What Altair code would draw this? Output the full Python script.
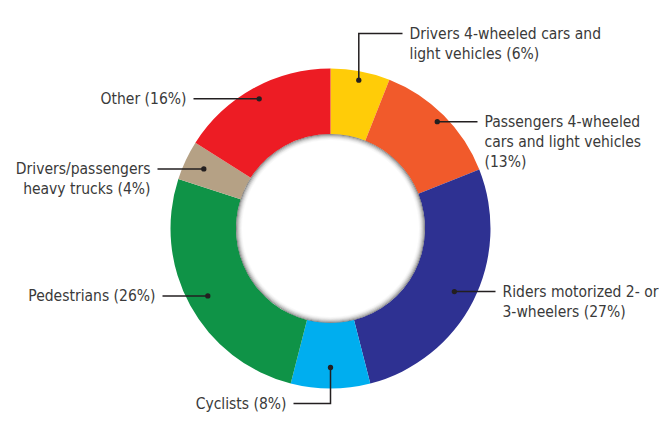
import altair as alt
import numpy as np
import pandas as pd

# ---- data ----
categories = [
    "Drivers 4-wheeled cars and light vehicles",
    "Passengers 4-wheeled cars and light vehicles",
    "Riders motorized 2- or 3-wheelers",
    "Cyclists",
    "Pedestrians",
    "Drivers/passengers heavy trucks",
    "Other",
]
values = [6, 13, 27, 8, 26, 4, 16]
labels = [
    "Drivers 4-wheeled cars and\nlight vehicles (6%)",
    "Passengers 4-wheeled\ncars and light vehicles\n(13%)",
    "Riders motorized 2- or\n3-wheelers (27%)",
    "Cyclists (8%)",
    "Pedestrians (26%)",
    "Drivers/passengers\nheavy trucks (4%)",
    "Other (16%)",
]
colors = ["#FFCC08", "#F15A2B", "#2E3192", "#00AEEF", "#0F9347", "#B5A185", "#ED1C24"]

# ---- layout (annotation placement, relative to donut centre, px) ----
W, H = 651, 405
CX, CY = 322.5, 220.5
R_OUT, R_IN = 160, 94.5
dot_radius = [151, 151, 139, 139, 140, 140, 148]
elbow_y = [-195, None, None, 175, None, None, None]
end_x = [72, 147, 165, -37, -168, -173, -137]
side = ["left", "left", "left", "right", "right", "right", "right"]
FONT = "DejaVu Sans Condensed, sans-serif"
FS = 15.5

df = pd.DataFrame({"cat": categories, "value": values, "idx": range(len(values))})

# mid angles of slices (clockwise from 12 o'clock)
tot = float(sum(values))
cum = np.cumsum(values) - np.array(values) / 2.0
ang = cum / tot * 2 * np.pi
dots = pd.DataFrame({
    "cat": categories,
    "x": np.array(dot_radius) * np.sin(ang),
    "y": -np.array(dot_radius) * np.cos(ang),
})

line_rows, text_rows = [], []
for i, c in enumerate(categories):
    dx, dy = dots.loc[i, "x"], dots.loc[i, "y"]
    pts = [(dx, dy)]
    if elbow_y[i] is not None:
        pts.append((dx, elbow_y[i]))
        ly = elbow_y[i]
    else:
        ly = dy
    pts.append((end_x[i], ly))
    for k, (px, py) in enumerate(pts):
        line_rows.append({"cat": c, "k": k, "x": px, "y": py})
    off = 7 if side[i] == "left" else -7
    text_rows.append({"cat": c, "x": end_x[i] + off, "y": ly, "label": labels[i], "side": side[i]})
lines = pd.DataFrame(line_rows)
texts = pd.DataFrame(text_rows)

xs = alt.Scale(domain=[-CX, W - CX], range=[0, W], nice=False, zero=False)
ys = alt.Scale(domain=[-CY, H - CY], range=[0, H], nice=False, zero=False)

donut = alt.Chart(df).mark_arc(outerRadius=R_OUT, innerRadius=R_IN).encode(
    theta=alt.Theta("value:Q", stack=True),
    order=alt.Order("idx:Q"),
    color=alt.Color("cat:N", scale=alt.Scale(domain=categories, range=colors), legend=None),
    x=alt.value(CX),
    y=alt.value(CY),
)

# inner shadow rings
shadow_layers = []
for j, op in enumerate([0.6, 0.42, 0.27, 0.16, 0.08, 0.03]):
    shadow_layers.append(
        alt.Chart(df.head(1)).mark_arc(
            outerRadius=R_IN - j, innerRadius=R_IN - j - 1,
            theta=0, theta2=2 * np.pi, color="#444444", opacity=op,
        ).encode(x=alt.value(CX), y=alt.value(CY))
    )

leader = alt.Chart(lines).mark_line(color="#231F20", strokeWidth=1.5).encode(
    x=alt.X("x:Q", scale=xs, axis=None),
    y=alt.Y("y:Q", scale=ys, axis=None),
    detail="cat:N",
    order="k:Q",
)
dot = alt.Chart(dots).mark_circle(color="#231F20", opacity=1, size=28).encode(
    x=alt.X("x:Q", scale=xs, axis=None),
    y=alt.Y("y:Q", scale=ys, axis=None),
)
text_l = alt.Chart(texts[texts.side == "left"]).mark_text(
    align="left", baseline="middle", lineBreak="\n", font=FONT, fontSize=FS,
    lineHeight=20, color="#3A3A3A",
).encode(
    x=alt.X("x:Q", scale=xs, axis=None), y=alt.Y("y:Q", scale=ys, axis=None), text="label:N"
)
text_r = alt.Chart(texts[texts.side == "right"]).mark_text(
    align="right", baseline="middle", lineBreak="\n", font=FONT, fontSize=FS,
    lineHeight=20, color="#3A3A3A",
).encode(
    x=alt.X("x:Q", scale=xs, axis=None), y=alt.Y("y:Q", scale=ys, axis=None), text="label:N"
)

chart = alt.layer(donut, *shadow_layers, leader, dot, text_l, text_r).properties(
    width=W, height=H, autosize=alt.AutoSizeParams(type="none"), padding=0,
).configure_view(stroke=None)

chart.save("out.html", embed_options={"renderer": "svg", "actions": False})
